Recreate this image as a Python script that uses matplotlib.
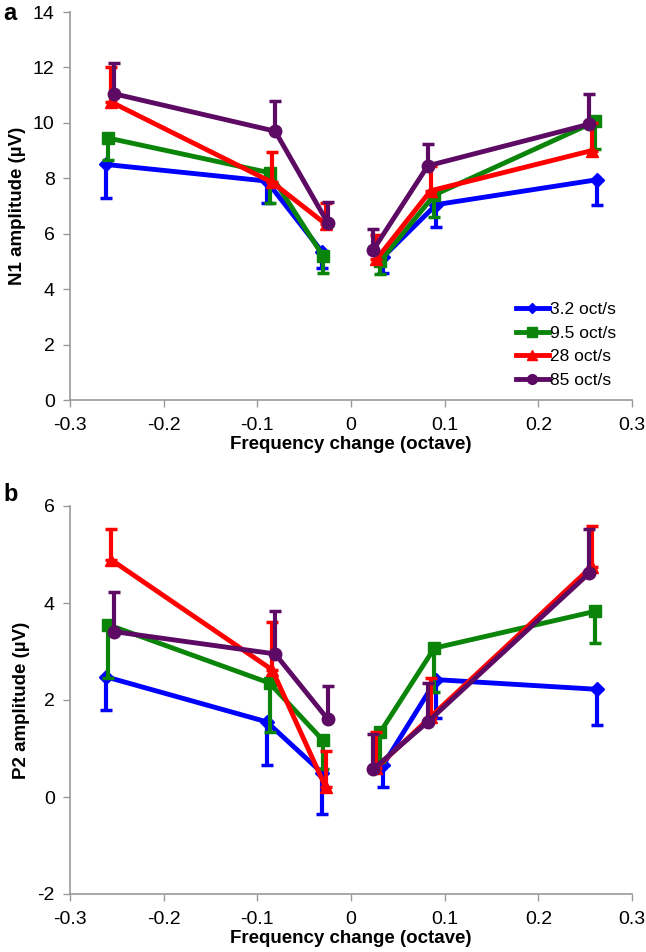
import matplotlib.pyplot as plt

# rates (legend labels)
rates = ["3.2 oct/s", "9.5 oct/s", "28 oct/s", "85 oct/s"]
colors = ["#0000FF", "#0A850A", "#FF0000", "#5C0A64"]
markers = ["D", "s", "^", "o"]

# x positions (octave change) per series, slightly offset as in the original
x_blue = [-0.262, -0.090, -0.031, 0.034, 0.091, 0.263]
x_green = [-0.259, -0.087, -0.030, 0.031, 0.089, 0.261]
x_red = [-0.256, -0.084, -0.027, 0.027, 0.085, 0.257]
x_purple = [-0.253, -0.081, -0.025, 0.024, 0.082, 0.254]
x_all = [x_blue, x_green, x_red, x_purple]

# panel a: N1 amplitude
n1_blue = [8.5, 7.9, 5.35, 5.15, 7.05, 7.95]
n1_green = [9.45, 8.2, 5.2, 5.0, 7.4, 10.05]
n1_red = [10.75, 7.85, 6.35, 5.07, 7.55, 9.0]
n1_purple = [11.05, 9.7, 6.4, 5.43, 8.45, 9.95]
n1_err_blue = [1.2, 0.8, 0.6, 0.55, 0.8, 0.9]     # drawn downward
n1_err_green = [0.8, 1.1, 0.6, 0.45, 0.8, 1.0]    # drawn downward
n1_err_red = [1.25, 1.1, 0.75, 0.9, 0.9, 1.0]     # drawn upward
n1_err_purple = [1.1, 1.1, 0.75, 0.75, 0.8, 1.1]  # drawn upward

# panel b: P2 amplitude
p2_blue = [2.48, 1.55, 0.5, 0.65, 2.42, 2.22]
p2_green = [3.55, 2.35, 1.17, 1.33, 3.07, 3.83]
p2_red = [4.89, 2.62, 0.2, 0.6, 1.65, 4.75]
p2_purple = [3.41, 2.95, 1.61, 0.58, 1.55, 4.61]
p2_err_blue = [0.68, 0.9, 0.85, 0.45, 0.8, 0.74]
p2_err_green = [1.1, 1.0, 0.6, 0.6, 0.9, 0.66]
p2_err_red = [0.63, 0.98, 0.75, 0.75, 0.8, 0.83]
p2_err_purple = [0.82, 0.88, 0.68, 0.72, 0.8, 0.91]

err_down = [True, True, False, False]

plt.rcParams['font.family'] = ['Liberation Sans', 'DejaVu Sans']

fig = plt.figure(figsize=(6.46, 9.52), dpi=100)
W, H = 646, 952
ax1 = fig.add_axes([70 / W, 1 - 400 / H, 562 / W, 388 / H])
ax2 = fig.add_axes([70 / W, 1 - 894 / H, 562 / W, 388 / H])


def draw_panel(ax, values, errs, ylim, yticks, ylabel):
    for i in range(4):
        e = errs[i]
        zeros = [0] * len(e)
        ms = 9 if markers[i] != "D" else 7
        # left half and right half are separate lines (gap around 0)
        for sl in (slice(0, 3), slice(3, 6)):
            xs = x_all[i][sl]
            ys = values[i][sl]
            ee = e[sl]
            zz = zeros[sl]
            yerr = [ee, zz] if err_down[i] else [zz, ee]
            ax.errorbar(xs, ys, yerr=yerr, color=colors[i], lw=3.5,
                        marker=markers[i], markersize=ms,
                        elinewidth=3, capsize=4, capthick=2.5,
                        zorder=2 + i)
    ax.set_xlim(-0.3, 0.3)
    ax.set_ylim(*ylim)
    ax.set_yticks(yticks)
    ax.set_xticks([-0.3, -0.2, -0.1, 0, 0.1, 0.2, 0.3])
    ax.set_xticklabels(["-0.3", "-0.2", "-0.1", "0", "0.1", "0.2", "0.3"])
    ax.set_yticklabels([str(t) for t in yticks])
    for s in ["top", "right"]:
        ax.spines[s].set_visible(False)
    for s in ["left", "bottom"]:
        ax.spines[s].set_color("#999999")
        ax.spines[s].set_linewidth(1.2)
    ax.tick_params(direction="out", length=5, width=1, color="#999999",
                   labelsize=14)
    ax.tick_params(axis="x", pad=7)
    ax.tick_params(axis="y", pad=6)
    ax.set_xlabel("Frequency change (octave)", fontsize=13.5,
                  fontweight="bold", labelpad=2)
    ax.set_ylabel(ylabel, fontsize=13.5, fontweight="bold", labelpad=5)


draw_panel(ax1, [n1_blue, n1_green, n1_red, n1_purple],
           [n1_err_blue, n1_err_green, n1_err_red, n1_err_purple],
           (0, 14), list(range(0, 15, 2)), "N1 amplitude (µV)")
draw_panel(ax2, [p2_blue, p2_green, p2_red, p2_purple],
           [p2_err_blue, p2_err_green, p2_err_red, p2_err_purple],
           (-2, 6), list(range(-2, 7, 2)), "P2 amplitude (µV)")

# legend in panel a
handles = [plt.Line2D([], [], color=colors[i], lw=3.5, marker=markers[i],
                      markersize=7 if markers[i] != "D" else 5)
           for i in range(4)]
ax1.legend(handles, rates, loc="lower right", bbox_to_anchor=(1.0, -0.01),
           frameon=False, fontsize=12.5, handlelength=1.9, handletextpad=0.1,
           labelspacing=0.5)

fig.text(3 / W, 1 - 14 / H, "a", fontsize=17, fontweight="bold", va="center")
fig.text(3 / W, 1 - 494 / H, "b", fontsize=17, fontweight="bold", va="center")

fig.savefig("out.png", dpi=100)
